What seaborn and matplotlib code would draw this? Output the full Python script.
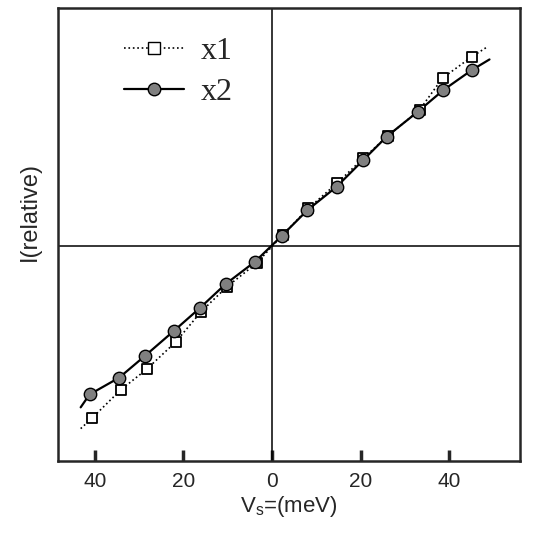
import matplotlib.pyplot as plt
import seaborn as sns
import numpy as np
import pandas as pd
from matplotlib.lines import Line2D

sns.set_style("ticks")
plt.rcParams['font.family'] = ['Liberation Sans', 'DejaVu Sans']

# data (arbitrary units for I)
x1_v = [-40.7, -34.2, -28.3, -21.7, -16.0, -10.2, -3.5, 2.4, 8.2, 14.7, 20.6, 26.1, 33.3, 38.5, 45.1]
x1_i = [-38.9, -32.5, -27.8, -21.6, -14.8, -9.2, -3.9, 2.5, 8.5, 14.2, 19.8, 24.8, 30.7, 37.9, 42.7]
x2_v = [-41.2, -34.5, -28.7, -22.1, -16.3, -10.5, -3.8, 2.2, 8.0, 14.6, 20.6, 25.9, 32.9, 38.7, 45.1]
x2_i = [-33.5, -29.7, -24.8, -19.1, -14.0, -8.6, -3.5, 2.3, 8.1, 13.4, 19.4, 24.7, 30.3, 35.2, 39.7]

# line ends run a little past the last points
x1_line_v = [-43.2] + x1_v + [48.7]
x1_line_i = [-41.2] + x1_i + [45.0]
x2_line_v = [-43.2] + x2_v + [49.1]
x2_line_i = [-36.4] + x2_i + [42.1]

tick_pos = [-40, -20, 0, 20, 40]
tick_lab = ['40', '20', '0', '20', '40']

fig = plt.figure(figsize=(5.48, 5.36), dpi=100)
ax = fig.add_axes([0.106, 0.140, 0.843, 0.845])

sns.lineplot(x=x1_line_v, y=x1_line_i, sort=False, ax=ax, color='black',
             linestyle=':', linewidth=1.2)
sns.lineplot(x=x2_line_v, y=x2_line_i, sort=False, ax=ax, color='black',
             linestyle='-', linewidth=1.6)
sns.scatterplot(x=x1_v, y=x1_i, ax=ax, marker='s', s=55, color='white',
                edgecolor='black', linewidth=1.3, zorder=3)
sns.scatterplot(x=x2_v, y=x2_i, ax=ax, marker='o', s=80, color='#808080',
                edgecolor='black', linewidth=1.0, zorder=4)

ax.axhline(0, color='black', linewidth=1.1)
ax.axvline(0, color='black', linewidth=1.1)

ax.set_xlim(-48.3, 56.0)
ax.set_ylim(-48.5, 53.7)
ax.set_xticks(tick_pos)
ax.set_xticklabels(tick_lab, fontsize=15)
ax.set_yticks([])
ax.tick_params(axis='x', direction='in', length=8, width=2.5, pad=8)
for sp in ax.spines.values():
    sp.set_linewidth(1.8)

ax.set_xlabel('V$_\\mathregular{s}$=(meV)', fontsize=16, labelpad=2)
ax.set_ylabel('I(relative)', fontsize=17)
ax.yaxis.set_label_coords(-0.038, 0.55)

handles = [
    Line2D([], [], color='black', linestyle=':', linewidth=1.2, marker='s',
           markersize=8, markerfacecolor='white', markeredgecolor='black'),
    Line2D([], [], color='black', linestyle='-', linewidth=1.6, marker='o',
           markersize=9, markerfacecolor='#808080', markeredgecolor='black'),
]
ax.legend(handles, ['x1', 'x2'], loc='upper left', bbox_to_anchor=(0.08, 1.0),
          frameon=False, handlelength=1.9, handletextpad=0.5,
          prop={'family': 'Liberation Serif', 'size': 23}, labelspacing=0.35)

fig.savefig('out.png', dpi=100)
